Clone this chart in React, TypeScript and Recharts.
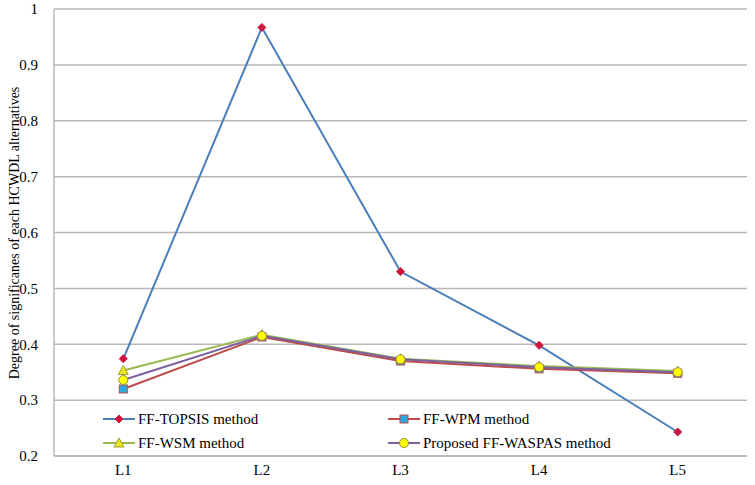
import React from "react";
import { LineChart, Line, XAxis, YAxis, CartesianGrid, Legend } from "recharts";

const categories = ["L1", "L2", "L3", "L4", "L5"];
const topsisValues = [0.374, 0.967, 0.53, 0.398, 0.243];
const wpmValues = [0.32, 0.413, 0.37, 0.356, 0.348];
const wsmValues = [0.353, 0.417, 0.374, 0.361, 0.352];
const waspasValues = [0.336, 0.415, 0.373, 0.359, 0.35];
const yTicks = [0.2, 0.3, 0.4, 0.5, 0.6, 0.7, 0.8, 0.9, 1];
const yTitle = "Degree of significanes of each HCWDL alternatives";

const font = "Liberation Serif, serif";

const series = [
  { key: "topsis", name: "FF-TOPSIS method", color: "#4a7ebb", shape: "diamond", fill: "#d0143c", stroke: "#d0143c" },
  { key: "wpm", name: "FF-WPM method", color: "#be4b48", shape: "square", fill: "#2aa8e0", stroke: "#be4b48" },
  { key: "wsm", name: "FF-WSM method", color: "#98b954", shape: "triangle", fill: "#ece41c", stroke: "#9aa030" },
  { key: "waspas", name: "Proposed FF-WASPAS method", color: "#7d60a0", shape: "circle", fill: "#ffff00", stroke: "#9c8a3c" },
];

const data = categories.map((c, i) => ({
  name: c,
  topsis: topsisValues[i],
  wpm: wpmValues[i],
  wsm: wsmValues[i],
  waspas: waspasValues[i],
}));

const Marker = ({ shape, cx, cy, fill, stroke }: any) => {
  if (cx == null || cy == null) return null;
  if (shape === "diamond") {
    const r = 4;
    return <polygon points={`${cx},${cy - r} ${cx + r},${cy} ${cx},${cy + r} ${cx - r},${cy}`} fill={fill} stroke={stroke} strokeWidth={1} />;
  }
  if (shape === "square") {
    const r = 4;
    return <rect x={cx - r} y={cy - r} width={r * 2} height={r * 2} fill={fill} stroke={stroke} strokeWidth={1} />;
  }
  if (shape === "triangle") {
    const r = 5;
    return <polygon points={`${cx},${cy - r} ${cx + r},${cy + r * 0.8} ${cx - r},${cy + r * 0.8}`} fill={fill} stroke={stroke} strokeWidth={1} />;
  }
  return <circle cx={cx} cy={cy} r={4.5} fill={fill} stroke={stroke} strokeWidth={1} />;
};

// two-column legend placed inside the plot, like the original
const renderLegend = () => (
  <div style={{ position: "relative", width: 755, height: 50, fontFamily: font, fontSize: 15, color: "#000" }}>
    {series.map((s, i) => (
      <div
        key={s.key}
        style={{
          position: "absolute",
          left: i % 2 === 0 ? 103 : 388,
          top: Math.floor(i / 2) * 24,
          height: 22,
          display: "flex",
          alignItems: "center",
          whiteSpace: "nowrap",
        }}
      >
        <svg width={32} height={14} style={{ display: "block" }}>
          <line x1={0} y1={7} x2={32} y2={7} stroke={s.color} strokeWidth={2} />
          <Marker shape={s.shape} cx={16} cy={7} fill={s.fill} stroke={s.stroke} />
        </svg>
        <span style={{ marginLeft: 3 }}>{s.name}</span>
      </div>
    ))}
  </div>
);

const renderYLabel = () => (
  <text
    x={0}
    y={0}
    transform="translate(19,233) rotate(-90)"
    textAnchor="middle"
    style={{ fontFamily: font, fontSize: 14 }}
    fill="#000"
  >
    {yTitle}
  </text>
);

const tickStyle = { fontFamily: font, fontSize: 15, fill: "#000" };

export default function App() {
  return (
    <div style={{ position: "absolute", left: 0, top: 0, background: "#fff" }}>
      <LineChart width={755} height={485} data={data} margin={{ top: 9, right: 8, bottom: 0, left: 0 }}>
        <CartesianGrid vertical={false} stroke="#b8b8b8" strokeWidth={1.5} />
        <XAxis
          dataKey="name"
          scale="band"
          height={29}
          axisLine={{ stroke: "#b8b8b8", strokeWidth: 1.5 }}
          tickLine={false}
          tick={tickStyle}
        />
        <YAxis
          width={54}
          domain={[0.2, 1]}
          ticks={yTicks}
          interval={0}
          axisLine={{ stroke: "#b8b8b8", strokeWidth: 1.5 }}
          tickLine={false}
          tickMargin={10}
          tick={tickStyle}
          label={renderYLabel}
        />
        <Legend layout="vertical" verticalAlign="middle" align="center" content={renderLegend} wrapperStyle={{ left: 0, top: 408, width: 755 }} />
        {series.map((s) => (
          <Line
            key={s.key}
            dataKey={s.key}
            name={s.name}
            stroke={s.color}
            strokeWidth={2}
            isAnimationActive={false}
            dot={(p: any) => <Marker key={`${s.key}-${p.index}`} shape={s.shape} cx={p.cx} cy={p.cy} fill={s.fill} stroke={s.stroke} />}
            activeDot={false}
          />
        ))}
      </LineChart>
    </div>
  );
}
